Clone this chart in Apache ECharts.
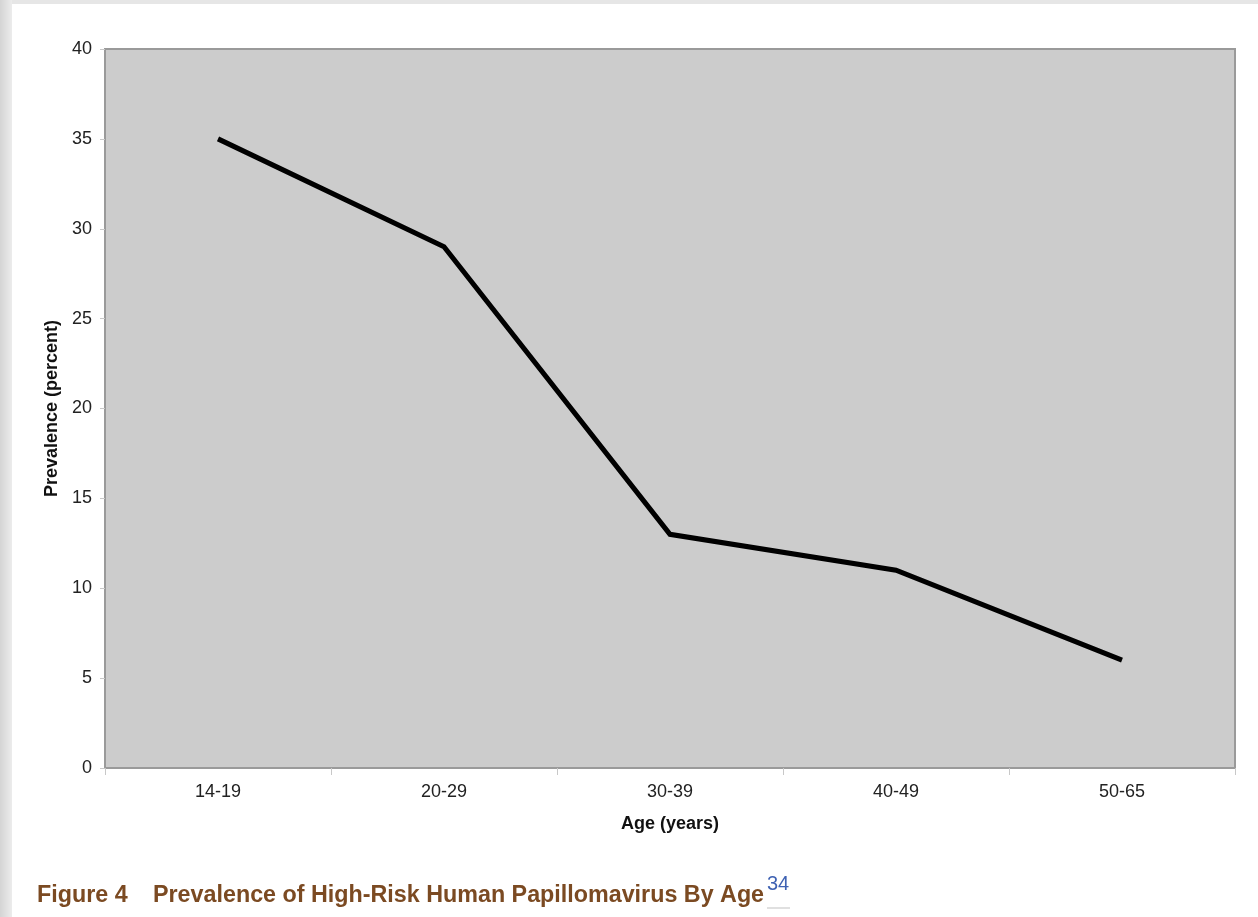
<!DOCTYPE html>
<html>
<head>
<meta charset="utf-8">
<script src="https://cdn.jsdelivr.net/npm/echarts@6/dist/echarts.min.js"></script>
<style>
html,body{margin:0;padding:0;background:#e6e6e6;}
#chart{width:1258px;height:917px;}
</style>
</head>
<body>
<div id="chart"></div>
<script>
const categories = ['14-19', '20-29', '30-39', '40-49', '50-65'];
const prevalence = [35, 29, 13, 11, 6];
const yTicks = { min: 0, max: 40, interval: 5 };
const xAxisTitle = 'Age (years)';
const yAxisTitle = 'Prevalence (percent)';
const captionLabel = 'Figure 4';
const captionMain = 'Prevalence of High-Risk Human Papillomavirus By Age';
const captionRef = '34';

const chart = echarts.init(document.getElementById('chart'), null, { renderer: 'canvas' });
const capFont = 'bold 23.3px "Liberation Sans", Arial, sans-serif';
chart.setOption({
  backgroundColor: '#e6e6e6',
  animation: false,
  graphic: [
    { type: 'rect', left: 0, top: 0, z: -10, shape: { width: 12, height: 917 },
      style: { fill: new echarts.graphic.LinearGradient(0, 0, 1, 0, [{ offset: 0, color: '#d4d4d4' }, { offset: 1, color: '#ececec' }]) } },
    { type: 'rect', left: 12, top: 4, z: -10, shape: { width: 1246, height: 913 }, style: { fill: '#ffffff' } },
    { type: 'text', left: 37, top: 884, z: 10, style: { text: captionLabel, font: capFont, fill: '#7b4a22' } },
    { type: 'text', left: 153, top: 884, z: 10, style: { text: captionMain, font: capFont, fill: '#7b4a22' } },
    { type: 'text', left: 767, top: 874, z: 10,
      style: { text: captionRef, font: '20px "Liberation Sans", Arial, sans-serif', fill: '#3f62b3' } },
    { type: 'rect', left: 767, top: 907, z: 10, shape: { width: 23, height: 2 }, style: { fill: '#e0e0e0' } }
  ],
  grid: {
    left: 105, top: 49, right: 23, bottom: 149,
    show: true, backgroundColor: '#cccccc', borderColor: '#9a9a9a', borderWidth: 2
  },
  xAxis: {
    type: 'category', data: categories, boundaryGap: true,
    name: xAxisTitle, nameLocation: 'middle', nameGap: 47,
    nameTextStyle: { fontFamily: '"Liberation Sans", Arial', fontWeight: 'bold', fontSize: 18, color: '#111' },
    axisLine: { lineStyle: { color: '#9a9a9a', width: 2 } },
    axisTick: { show: true, length: 7, inside: false, lineStyle: { color: '#c8c8c8', width: 1 } },
    axisLabel: { margin: 15, fontFamily: '"Liberation Sans", Arial', fontSize: 18, color: '#222' },
    splitLine: { show: false }
  },
  yAxis: {
    type: 'value', min: yTicks.min, max: yTicks.max, interval: yTicks.interval,
    name: yAxisTitle, nameLocation: 'middle', nameGap: 43, nameRotate: 90,
    nameTextStyle: { fontFamily: '"Liberation Sans", Arial', fontWeight: 'bold', fontSize: 18, color: '#111' },
    axisLine: { show: true, lineStyle: { color: '#9a9a9a', width: 2 } },
    axisTick: { show: true, length: 5, lineStyle: { color: '#c8c8c8', width: 1 } },
    axisLabel: { margin: 13, fontFamily: '"Liberation Sans", Arial', fontSize: 18, color: '#222' },
    splitLine: { show: false }
  },
  series: [{
    type: 'line', data: prevalence, symbol: 'none',
    lineStyle: { color: '#000000', width: 5, join: 'miter' }
  }]
});
</script>
</body>
</html>
